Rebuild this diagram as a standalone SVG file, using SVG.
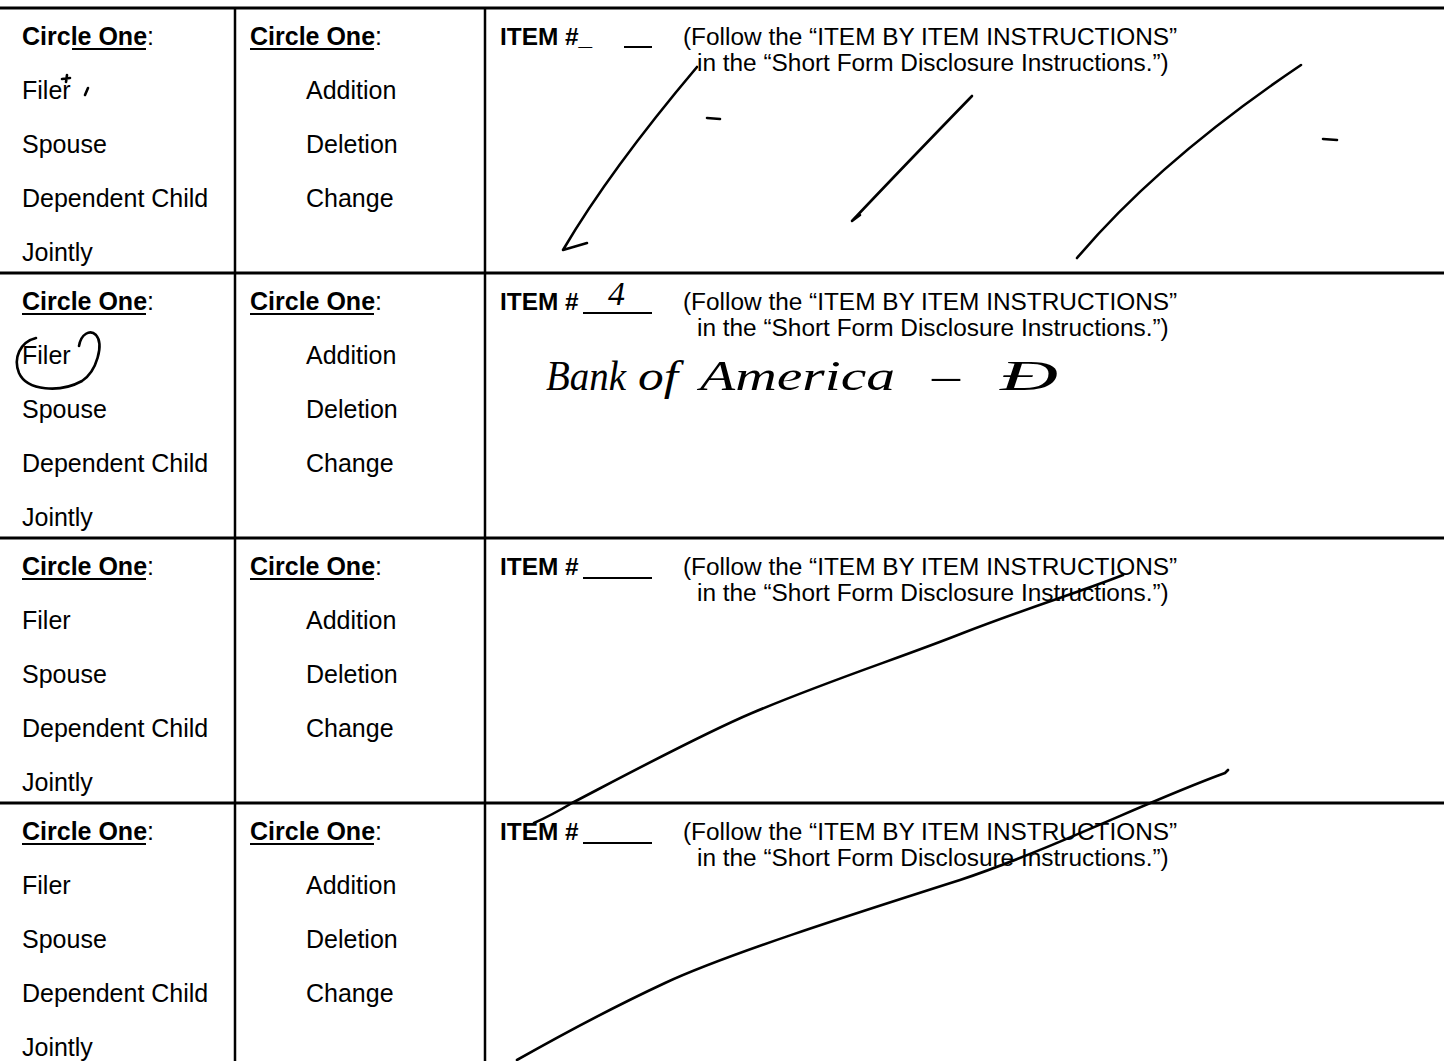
<svg xmlns="http://www.w3.org/2000/svg" width="1444" height="1061" viewBox="0 0 1444 1061">
<style>
.t{font-family:"Liberation Sans",Arial,sans-serif;font-size:25px;fill:#000}
.s{font-size:24.4px}
.b{font-weight:bold}
.hw{font-family:"Liberation Serif","DejaVu Serif",serif;font-style:italic;fill:#000}
.rule{stroke:#000;stroke-width:3;fill:none}
.vr{stroke:#000;stroke-width:2.5;fill:none}
.ul{stroke:#000;stroke-width:2;fill:none}
.ink{stroke:#000;stroke-width:2.6;fill:none;stroke-linecap:round;stroke-linejoin:round}
</style>
<rect width="1444" height="1061" fill="#fff"/>
<g id="grid">
<line class="rule" x1="0" y1="8" x2="1444" y2="8"/>
<line class="rule" x1="0" y1="273" x2="1444" y2="273"/>
<line class="rule" x1="0" y1="538" x2="1444" y2="538"/>
<line class="rule" x1="0" y1="803" x2="1444" y2="803"/>
<line class="vr" x1="235" y1="8" x2="235" y2="1061"/>
<line class="vr" x1="485" y1="8" x2="485" y2="1061"/>
</g>
<g id="row1">
<text class="t b" x="22" y="45">Circle One<tspan font-weight="normal">:</tspan></text>
<line class="ul" x1="72" y1="49" x2="146" y2="49"/>
<text class="t" x="22" y="99">Filer</text>
<text class="t" x="22" y="153">Spouse</text>
<text class="t" x="22" y="207">Dependent Child</text>
<text class="t" x="22" y="261">Jointly</text>
<text class="t b" x="250" y="45">Circle One<tspan font-weight="normal">:</tspan></text>
<line class="ul" x1="250" y1="49" x2="374" y2="49"/>
<text class="t" x="306" y="99">Addition</text>
<text class="t" x="306" y="153">Deletion</text>
<text class="t" x="306" y="207">Change</text>
<text class="t s b" x="500" y="45">ITEM #_</text>
<line class="ul" x1="624" y1="47" x2="652" y2="47"/>
<text class="t s" x="683" y="45">(Follow the “ITEM BY ITEM INSTRUCTIONS”</text>
<text class="t s" x="697" y="71">in the “Short Form Disclosure Instructions.”)</text>
</g>
<g id="row2">
<text class="t b" x="22" y="310">Circle One<tspan font-weight="normal">:</tspan></text>
<line class="ul" x1="22" y1="314" x2="146" y2="314"/>
<text class="t" x="22" y="364">Filer</text>
<text class="t" x="22" y="418">Spouse</text>
<text class="t" x="22" y="472">Dependent Child</text>
<text class="t" x="22" y="526">Jointly</text>
<text class="t b" x="250" y="310">Circle One<tspan font-weight="normal">:</tspan></text>
<line class="ul" x1="250" y1="314" x2="374" y2="314"/>
<text class="t" x="306" y="364">Addition</text>
<text class="t" x="306" y="418">Deletion</text>
<text class="t" x="306" y="472">Change</text>
<text class="t s b" x="500" y="310">ITEM #</text>
<line class="ul" x1="583" y1="313" x2="652" y2="313"/>
<text class="t s" x="683" y="310">(Follow the “ITEM BY ITEM INSTRUCTIONS”</text>
<text class="t s" x="697" y="336">in the “Short Form Disclosure Instructions.”)</text>
</g>
<g id="row3">
<text class="t b" x="22" y="575">Circle One<tspan font-weight="normal">:</tspan></text>
<line class="ul" x1="22" y1="579" x2="146" y2="579"/>
<text class="t" x="22" y="629">Filer</text>
<text class="t" x="22" y="683">Spouse</text>
<text class="t" x="22" y="737">Dependent Child</text>
<text class="t" x="22" y="791">Jointly</text>
<text class="t b" x="250" y="575">Circle One<tspan font-weight="normal">:</tspan></text>
<line class="ul" x1="250" y1="579" x2="374" y2="579"/>
<text class="t" x="306" y="629">Addition</text>
<text class="t" x="306" y="683">Deletion</text>
<text class="t" x="306" y="737">Change</text>
<text class="t s b" x="500" y="575">ITEM #</text>
<line class="ul" x1="583" y1="578" x2="652" y2="578"/>
<text class="t s" x="683" y="575">(Follow the “ITEM BY ITEM INSTRUCTIONS”</text>
<text class="t s" x="697" y="601">in the “Short Form Disclosure Instructions.”)</text>
</g>
<g id="row4">
<text class="t b" x="22" y="840">Circle One<tspan font-weight="normal">:</tspan></text>
<line class="ul" x1="22" y1="844" x2="146" y2="844"/>
<text class="t" x="22" y="894">Filer</text>
<text class="t" x="22" y="948">Spouse</text>
<text class="t" x="22" y="1002">Dependent Child</text>
<text class="t" x="22" y="1056">Jointly</text>
<text class="t b" x="250" y="840">Circle One<tspan font-weight="normal">:</tspan></text>
<line class="ul" x1="250" y1="844" x2="374" y2="844"/>
<text class="t" x="306" y="894">Addition</text>
<text class="t" x="306" y="948">Deletion</text>
<text class="t" x="306" y="1002">Change</text>
<text class="t s b" x="500" y="840">ITEM #</text>
<line class="ul" x1="583" y1="843" x2="652" y2="843"/>
<text class="t s" x="683" y="840">(Follow the “ITEM BY ITEM INSTRUCTIONS”</text>
<text class="t s" x="697" y="866">in the “Short Form Disclosure Instructions.”)</text>
</g>
<g id="handwriting">
<path class="ink" d="M62 79 L70 78 M67 75 L66 82 M85 95 L88 88" stroke-width="1.5"/>
<path class="ink" d="M587 243 L563 250 Q610 170 697 67"/>
<path class="ink" d="M860 215 L852 221 Q905 165 972 96"/>
<path class="ink" d="M1077 258 Q1160 160 1301 65"/>
<path class="ink" d="M707 118 L720 119 M1323 139 L1337 140"/>
<path class="ink" d="M36 338 C20 342 13 358 19 373 C27 391 60 393 82 381 C97 371 104 344 96 335 C90 329 81 334 79 346"/>
<text class="hw" x="608" y="305" font-size="34">4</text>
<text class="hw" x="546" y="390" font-size="42" textLength="80" lengthAdjust="spacingAndGlyphs">Bank</text>
<text class="hw" x="638" y="390" font-size="42" textLength="40" lengthAdjust="spacingAndGlyphs">of</text>
<text class="hw" x="700" y="390" font-size="42" textLength="195" lengthAdjust="spacingAndGlyphs">America</text>
<text class="hw" x="932" y="390" font-size="42" textLength="28" lengthAdjust="spacingAndGlyphs">–</text>
<text class="hw" x="1000" y="390" font-size="42" textLength="58" lengthAdjust="spacingAndGlyphs">Ð</text>
<path class="ink" d="M534 823 Q552 815 572 803 C620 778 700 735 752 713 C830 680 900 658 963 633 C1030 607 1080 592 1123 575"/>
<path class="ink" d="M517 1060 C570 1030 620 1004 665 983 C725 955 850 915 960 880 C1050 850 1150 800 1225 773 L1228 770"/>
</g>
</svg>
